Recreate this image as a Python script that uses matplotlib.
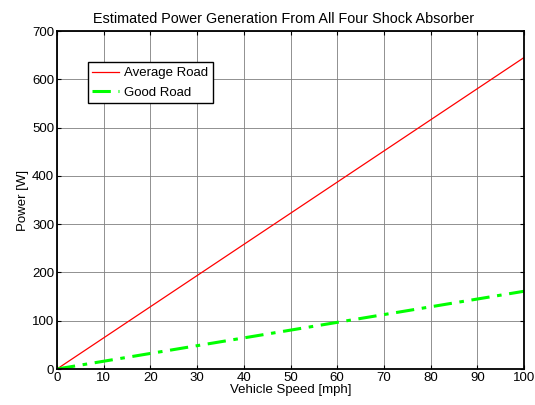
import matplotlib
matplotlib.use('Agg')
import matplotlib.pyplot as plt

speed_mph = [0, 10, 20, 30, 40, 50, 60, 70, 80, 90, 100]
average_road_w = [0, 64.5, 129, 193.5, 258, 322.5, 387, 451.5, 516, 580.5, 645]
good_road_w = [0, 16.1, 32.2, 48.3, 64.4, 80.5, 96.6, 112.7, 128.8, 144.9, 161]

plt.rcParams['font.family'] = ['Liberation Sans', 'DejaVu Sans']
plt.rcParams['font.size'] = 9

fig = plt.figure(figsize=(5.35, 4.05), dpi=100)
ax = fig.add_axes([57 / 535, 36 / 405, 467 / 535, 338 / 405])

ax.plot(speed_mph, average_road_w, color='#ff0000', lw=0.9, label='Average Road')
ax.plot(speed_mph, good_road_w, color='#00ff00', lw=2.2, dashes=(6, 2.5, 1.5, 2.5),
        label='Good Road')

ax.set_xlim(0, 100)
ax.set_ylim(0, 700)
ax.set_xticks(range(0, 101, 10))
ax.set_yticks(range(0, 701, 100))
ax.grid(True, color='#7f7f7f', lw=0.6)
ax.set_axisbelow(True)
ax.tick_params(direction='in', length=3, width=0.8, pad=2, top=True, right=True,
               labelsize=9.5)
for s in ax.spines.values():
    s.set_linewidth(1.3)

ax.set_title('Estimated Power Generation From All Four Shock Absorber', fontsize=10.4,
             pad=6, x=0.485)
ax.set_xlabel('Vehicle Speed [mph]', fontsize=9.5, labelpad=0)
ax.set_ylabel('Power [W]', fontsize=9.5, labelpad=2)

leg = ax.legend(loc='upper left', bbox_to_anchor=(0.066, 0.907), fontsize=9.5,
                fancybox=False, framealpha=1, edgecolor='black',
                borderpad=0.35, handlelength=2.0, handletextpad=0.4,
                labelspacing=0.55, borderaxespad=0)
leg.get_frame().set_linewidth(1.0)

fig.savefig('out.png', dpi=100)
plt.close(fig)
